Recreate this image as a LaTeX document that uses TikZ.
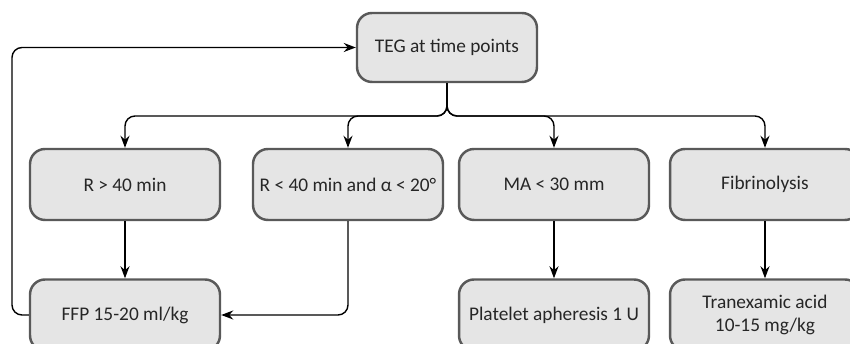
\documentclass[tikz,border=0pt]{standalone}
\usepackage{fontspec}
\setmainfont{Carlito}
\usetikzlibrary{arrows.meta}
\tikzset{
  box/.style={draw=black!65, fill=black!10, line width=1.4pt, rounded corners=0.3cm,
    minimum width=3.8cm, minimum height=1.42cm, align=center, font=\fontsize{11}{13}\selectfont, text=black!85},
  arr/.style={-{Stealth[length=0.24cm,width=0.18cm]}, line width=0.8pt, rounded corners=0.2cm}
}
\begin{document}
\begin{tikzpicture}[x=0.02cm,y=0.02cm]
\useasboundingbox (0,0) rectangle (850,344);
\clip (0,0) rectangle (850,344);
\node[box, minimum width=3.6cm, minimum height=1.38cm] (teg) at (447,296.5) {TEG at time points};
\node[box] (rhigh) at (125,159.5) {R > 40 min};
\node[box] (rlow) at (348,159.5) {R < 40 min and α < 20°};
\node[box] (ma) at (554,159.5) {MA < 30 mm};
\node[box] (fib) at (765,159.5) {Fibrinolysis};
\node[box] (ffp) at (125,29) {FFP 15-20 ml/kg};
\node[box] (plt) at (554,29) {Platelet apheresis 1 U};
\node[box] (txa) at (765,29) {Tranexamic acid\\10-15 mg/kg};
\coordinate (bus) at (0,228);
\coordinate (back) at (12,0);
\draw[arr] (teg.south) |- (rhigh.north |- bus) -- (rhigh.north);
\draw[arr] (teg.south) |- (rlow.north |- bus) -- (rlow.north);
\draw[arr] (teg.south) |- (ma.north |- bus) -- (ma.north);
\draw[arr] (teg.south) |- (fib.north |- bus) -- (fib.north);
\draw[arr] (rhigh) -- (ffp);
\draw[arr] (rlow.south) |- (ffp.east);
\draw[arr] (ma) -- (plt);
\draw[arr] (fib) -- (txa);
\draw[arr] (ffp.west) -- (ffp.west -| back) |- (teg.west);
\end{tikzpicture}
\end{document}
